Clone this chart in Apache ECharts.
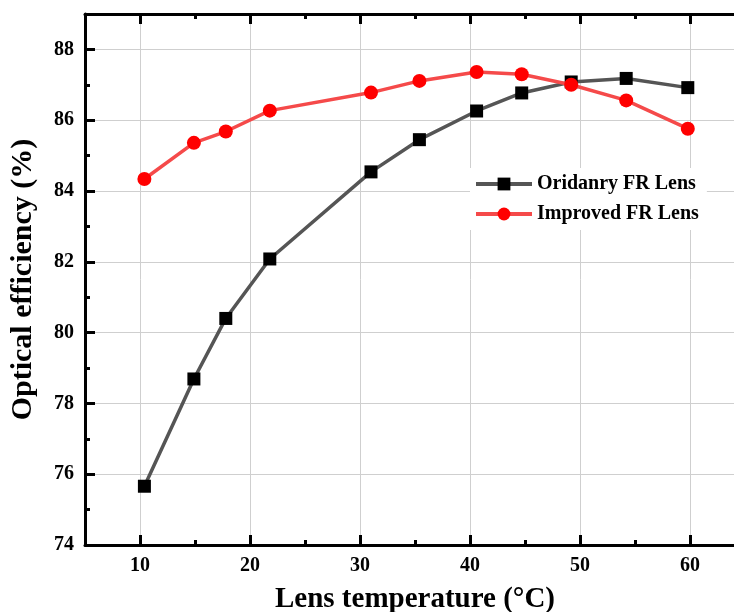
<!DOCTYPE html>
<html>
<head>
<meta charset="utf-8">
<title>Optical efficiency vs lens temperature</title>
<script src="https://cdn.jsdelivr.net/npm/echarts@6/dist/echarts.min.js"></script>
<style>
  html, body { margin: 0; padding: 0; background: #fff; overflow: hidden; }
  #chart { width: 734px; height: 612px; }
</style>
</head>
<body>
<div id="chart"></div>
<script>
// Measured lens temperatures (°C), shared by both lens types
const temperature = [10.4, 14.9, 17.8, 21.8, 31.0, 35.4, 40.6, 44.7, 49.2, 54.2, 59.8];
// Optical efficiency (%) of each lens type
const ordinaryLens = [75.66, 78.69, 80.40, 82.08, 84.54, 85.45, 86.26, 86.77, 87.08, 87.18, 86.92];
const improvedLens = [84.34, 85.36, 85.68, 86.27, 86.78, 87.11, 87.36, 87.30, 87.00, 86.56, 85.76];

const seriesNames = ['Oridanry FR Lens', 'Improved FR Lens'];

// Tick positions
const xMajorTicks = [10, 20, 30, 40, 50, 60];
const xMinorTicks = [15, 25, 35, 45, 55];
const yMajorTicks = [74, 76, 78, 80, 82, 84, 86, 88];
const yMinorTicks = [75, 77, 79, 81, 83, 85, 87];

// The plot frame runs a little past the right edge of the canvas
const X_MIN = 5, X_MAX = 65;
const Y_MIN = 74, Y_MAX = 89;

const FONT = '"Liberation Serif", "DejaVu Serif", serif';
const AXIS_COLOR = '#000';

function pairs(xs, ys) {
  return xs.map((x, i) => [x, ys[i]]);
}

function xAxisDef(position, ticks, len, withLabels, showLine) {
  return {
    type: 'value',
    position: position,
    min: X_MIN,
    max: X_MAX,
    axisLine: { show: showLine, onZero: false, lineStyle: { color: AXIS_COLOR, width: 3 } },
    axisTick: { show: true, inside: true, length: len, customValues: ticks,
      lineStyle: { color: AXIS_COLOR, width: 3 } },
    axisLabel: withLabels ? {
      show: true, customValues: ticks, margin: 11,
      fontFamily: FONT, fontSize: 20, fontWeight: 'bold', color: '#000'
    } : { show: false },
    splitLine: withLabels ? { show: true, lineStyle: { color: '#cfcfcf', width: 1 } } : { show: false }
  };
}

function yAxisDef(ticks, len, withLabels) {
  return {
    type: 'value',
    position: 'left',
    min: Y_MIN,
    max: Y_MAX,
    axisLine: { show: withLabels, onZero: false, lineStyle: { color: AXIS_COLOR, width: 3 } },
    axisTick: { show: true, inside: true, length: len, customValues: ticks,
      lineStyle: { color: AXIS_COLOR, width: 3 } },
    axisLabel: withLabels ? {
      show: true, customValues: ticks, margin: 11,
      fontFamily: FONT, fontSize: 20, fontWeight: 'bold', color: '#000'
    } : { show: false },
    splitLine: withLabels ? { show: true, lineStyle: { color: '#cfcfcf', width: 1 } } : { show: false }
  };
}

const xAxes = [
  Object.assign(xAxisDef('bottom', xMajorTicks, 10, true, true), {
    name: 'Lens temperature (°C)',
    nameLocation: 'middle',
    nameGap: 40,
    nameTextStyle: { fontFamily: FONT, fontSize: 29, fontWeight: 'bold', color: '#000' }
  }),
  xAxisDef('bottom', xMinorTicks, 5, false, false),
  xAxisDef('top', xMajorTicks, 10, false, true),
  xAxisDef('top', xMinorTicks, 5, false, false)
];

const yAxes = [
  Object.assign(yAxisDef(yMajorTicks, 10, true), {
    name: 'Optical efficiency (%)',
    nameLocation: 'middle',
    nameRotate: 90,
    nameGap: 47,
    nameTextStyle: { fontFamily: FONT, fontSize: 30, fontWeight: 'bold', color: '#000' }
  }),
  yAxisDef(yMinorTicks, 5, false)
];

const chart = echarts.init(document.getElementById('chart'), null, { renderer: 'canvas' });

chart.setOption({
  backgroundColor: '#fff',
  animation: false,
  grid: { left: 85, right: -11, top: 14, bottom: 67, containLabel: false, outerBoundsMode: 'none' },
  legend: {
    left: 470,
    top: 168,
    orient: 'vertical',
    backgroundColor: '#fff',
    padding: [6, 8, 6, 4],
    itemGap: 10,
    itemWidth: 56,
    itemHeight: 16,
    lineStyle: { width: 4 },
    textStyle: { fontFamily: FONT, fontSize: 20, fontWeight: 'bold', color: '#000' },
    data: seriesNames
  },
  xAxis: xAxes,
  yAxis: yAxes,
  series: [
    {
      name: seriesNames[0],
      type: 'line',
      xAxisIndex: 0,
      yAxisIndex: 0,
      data: pairs(temperature, ordinaryLens),
      symbol: 'rect',
      symbolSize: 13,
      itemStyle: { color: '#000' },
      lineStyle: { color: '#555', width: 3.5 },
      z: 3
    },
    {
      name: seriesNames[1],
      type: 'line',
      xAxisIndex: 0,
      yAxisIndex: 0,
      data: pairs(temperature, improvedLens),
      symbol: 'circle',
      symbolSize: 14,
      itemStyle: { color: '#ff0000' },
      lineStyle: { color: '#f54a4a', width: 3.5 },
      z: 4
    }
  ]
});
</script>
</body>
</html>
